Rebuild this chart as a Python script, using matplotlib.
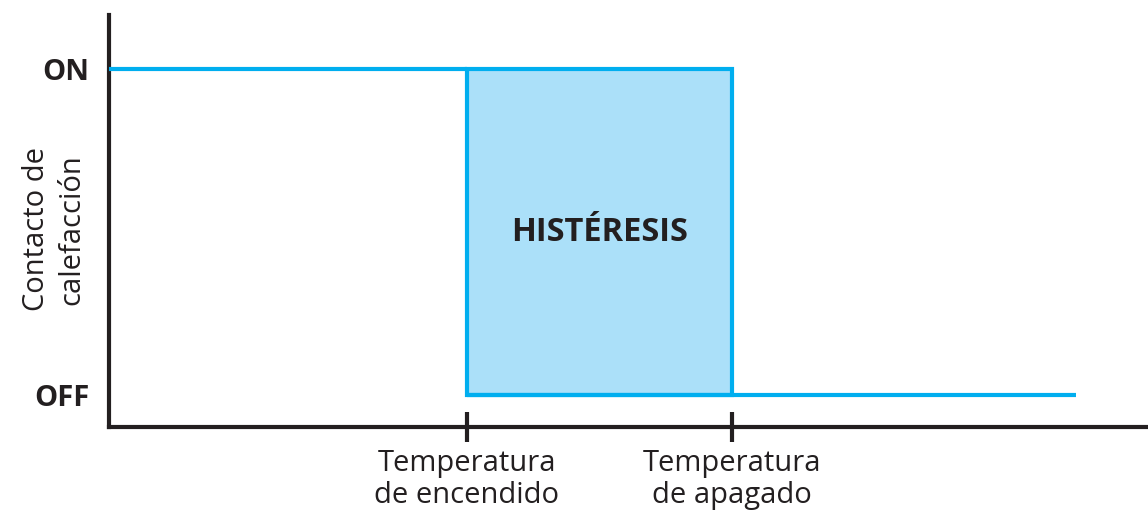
import numpy as np
import matplotlib.pyplot as plt
from matplotlib.patches import Rectangle

# estados del contacto (OFF=0, ON=1)
estados = ['OFF', 'ON']
niveles = [0, 1]

# temperaturas (unidades arbitrarias)
t_inicio = 0.0
t_encendido = 1.35
t_apagado = 2.35
t_fin = 3.65

tick_labels = ['Temperatura\nde encendido', 'Temperatura\nde apagado']

AZUL = '#00aeef'
RELLENO = '#abe0f9'
NEGRO = '#231f20'

plt.rcParams['font.family'] = ['Open Sans', 'DejaVu Sans']


def main():
    fig = plt.figure(figsize=(11.48, 5.13), dpi=100)
    ax = fig.add_axes([109 / 1148, 86 / 513, 1 - 109 / 1148, (427 - 15) / 513])

    off, on = niveles
    # zona de histéresis
    rect = Rectangle((t_encendido, off), t_apagado - t_encendido, on - off,
                     facecolor=RELLENO, edgecolor=AZUL, linewidth=3, zorder=2)
    ax.add_patch(rect)
    # curva del contacto
    ax.plot([t_inicio, t_encendido], [on, on], color=AZUL, lw=3, solid_capstyle='butt', zorder=3)
    ax.plot([t_encendido, t_fin], [off, off], color=AZUL, lw=3, solid_capstyle='butt', zorder=3)

    ax.text((t_encendido + t_apagado) / 2, (on + off) / 2, 'HISTÉRESIS',
            ha='center', va='center', fontsize=23.5, fontweight='bold', color=NEGRO)

    ax.set_xlim(0, 3.92)
    ax.set_ylim(-0.098, 1.166)

    for s in ['top', 'right']:
        ax.spines[s].set_visible(False)
    for s in ['left', 'bottom']:
        ax.spines[s].set_linewidth(3)
        ax.spines[s].set_color(NEGRO)

    ax.set_xticks([t_encendido, t_apagado])
    ax.set_xticklabels(tick_labels, fontsize=21, color=NEGRO, linespacing=1.12)
    ax.tick_params(axis='x', direction='inout', length=22, width=3, color=NEGRO, pad=5)

    ax.set_yticks(niveles)
    ax.set_yticklabels(estados, fontsize=21, fontweight='bold', color=NEGRO)
    ax.tick_params(axis='y', length=0, pad=14)

    ax.set_ylabel('Contacto de\ncalefacción', fontsize=21, color=NEGRO, linespacing=1.3)
    ax.yaxis.set_label_coords(-0.022, 0.48)

    fig.savefig('out.png', dpi=100)


if __name__ == '__main__':
    main()
